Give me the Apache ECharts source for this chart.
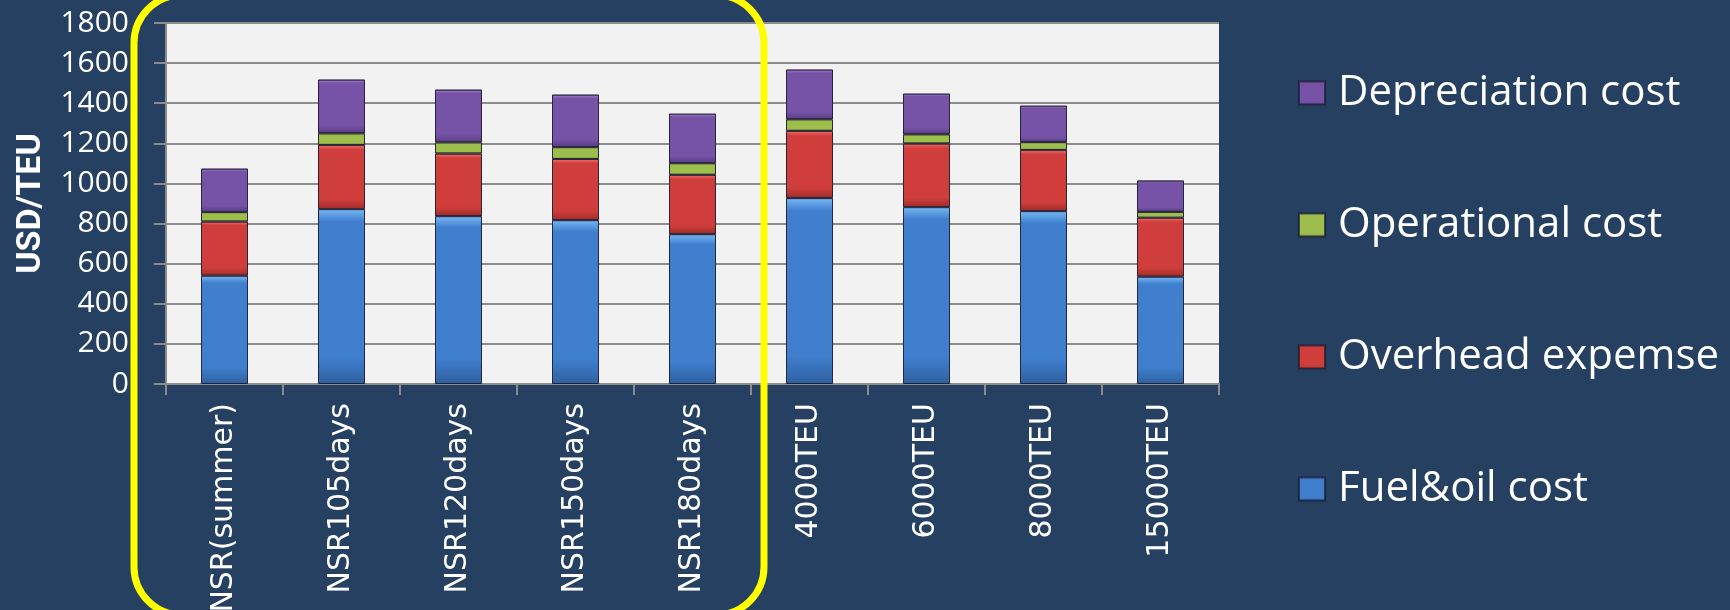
<!DOCTYPE html>
<html>
<head>
<meta charset="utf-8">
<script src="https://cdn.jsdelivr.net/npm/echarts@6/dist/echarts.min.js"></script>
<style>
  html, body { margin: 0; padding: 0; background: #264062; }
  #chart { width: 1730px; height: 610px; }
</style>
</head>
<body>
<div id="chart"></div>
<script>
const categories = ['NSR(summer)', 'NSR105days', 'NSR120days', 'NSR150days', 'NSR180days',
  '4000TEU', '6000TEU', '8000TEU', '15000TEU'];
const fuelOil = [540, 872, 837, 817, 747, 927, 882, 862, 535];
const overhead = [270, 320, 312, 305, 296, 335, 317, 305, 294];
const operational = [47, 58, 56, 59, 58, 58, 46, 39, 29];
const depreciation = [217, 268, 263, 262, 247, 248, 203, 182, 157];
const yTicks = { min: 0, max: 1800, interval: 200 };

function grad(light, main, dark) {
  return new echarts.graphic.LinearGradient(0, 0, 0, 1, [
    { offset: 0, color: light },
    { offset: 0.07, color: main },
    { offset: 0.85, color: main },
    { offset: 1, color: dark }
  ]);
}

const seriesDefs = [
  { name: 'Fuel&oil cost', data: fuelOil, light: '#78B8F4', main: '#3F7FCE', dark: '#2F609F' },
  { name: 'Overhead expemse', data: overhead, light: '#F47070', main: '#D03E3B', dark: '#A02C2A' },
  { name: 'Operational cost', data: operational, light: '#D6F08A', main: '#9DBD4C', dark: '#6E8A30' },
  { name: 'Depreciation cost', data: depreciation, light: '#A987D6', main: '#7653A6', dark: '#5A3C85' }
];

const chart = echarts.init(document.getElementById('chart'), null, { renderer: 'canvas' });

const option = {
  backgroundColor: '#264062',
  animation: false,
  grid: {
    left: 166, right: 511, top: 23, bottom: 226,
    containLabel: false,
    outerBoundsMode: 'none',
    show: true, backgroundColor: '#F2F2F2', borderWidth: 0
  },
  legend: {
    orient: 'vertical',
    left: 1293,
    top: 67,
    itemWidth: 26,
    itemHeight: 23,
    itemGap: 90,
    icon: 'rect',
    data: ['Depreciation cost', 'Operational cost', 'Overhead expemse', 'Fuel&oil cost'],
    textStyle: {
      color: '#FFFFFF', fontSize: 42, lineHeight: 42,
      fontFamily: 'Open Sans', padding: [0, 0, 0, 8]
    }
  },
  xAxis: {
    type: 'category',
    data: categories,
    axisLine: { lineStyle: { color: '#8C8C8C', width: 2 } },
    axisTick: { show: true, length: 11, lineStyle: { color: '#8C8C8C', width: 2 } },
    axisLabel: {
      rotate: 90, margin: 19, color: '#FFFFFF', fontSize: 30,
      fontFamily: 'DejaVu Sans', interval: 0
    }
  },
  yAxis: {
    type: 'value',
    min: yTicks.min, max: yTicks.max, interval: yTicks.interval,
    name: 'USD/TEU',
    nameLocation: 'middle',
    nameGap: 118,
    nameTextStyle: { color: '#FFFFFF', fontSize: 34, fontWeight: 'bold', fontFamily: 'Roboto' },
    axisLine: { show: true, lineStyle: { color: '#8C8C8C', width: 2 } },
    axisTick: { show: true, length: 12, lineStyle: { color: '#8C8C8C', width: 2 } },
    splitLine: { lineStyle: { color: '#8C8C8C', width: 2 } },
    axisLabel: {
      margin: 37, color: '#FFFFFF', fontSize: 30, fontFamily: 'Open Sans',
      formatter: v => String(v)
    }
  },
  series: seriesDefs.map(s => ({
    name: s.name,
    type: 'bar',
    stack: 'total',
    barWidth: 47,
    data: s.data,
    itemStyle: {
      color: grad(s.light, s.main, s.dark),
      borderColor: 'rgba(25,25,45,0.7)',
      borderWidth: 1
    }
  }))
};

chart.setOption(option);

// Yellow highlight frame around the NSR group, positioned from the category axis
const c0 = chart.convertToPixel({ xAxisIndex: 0 }, 0);
const c1 = chart.convertToPixel({ xAxisIndex: 0 }, 1);
const c4 = chart.convertToPixel({ xAxisIndex: 0 }, 4);
const band = c1 - c0;
const leftX = c0 - band / 2 - 32;
const rightX = c4 + band / 2 + 13;
chart.setOption({
  graphic: [{
    type: 'rect',
    z: 100,
    shape: { x: leftX, y: -5, width: rightX - leftX, height: 620, r: 48 },
    style: { fill: 'none', stroke: '#FFFF00', lineWidth: 7 }
  }]
});
</script>
</body>
</html>
